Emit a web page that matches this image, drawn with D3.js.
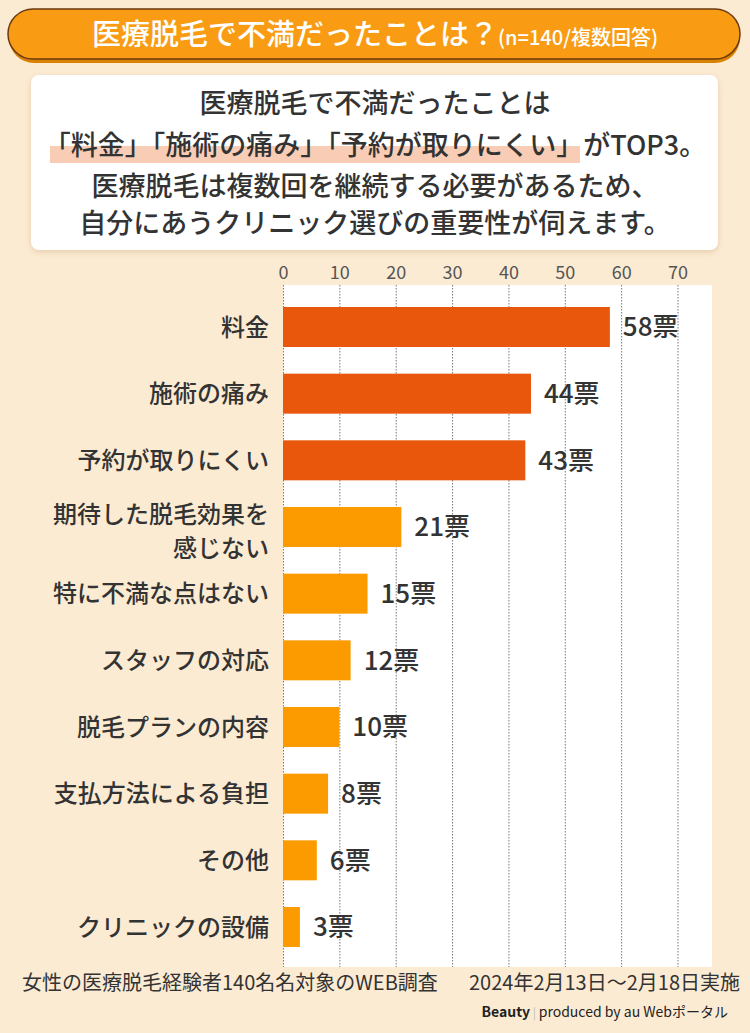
<!DOCTYPE html>
<html><head><meta charset="utf-8">
<script src="https://cdn.jsdelivr.net/npm/d3@7"></script>
<style>
html,body{margin:0;padding:0;background:#fcebd3;}
svg{display:block;font-family:"Noto Sans CJK JP","Noto Sans",sans-serif;}
</style></head>
<body>
<script>
const categories = ["料金","施術の痛み","予約が取りにくい","期待した脱毛効果を\n感じない","特に不満な点はない","スタッフの対応","脱毛プランの内容","支払方法による負担","その他","クリニックの設備"];
const votes = [58,44,43,21,15,12,10,8,6,3];
const topN = 3;
const tickValues = [0,10,20,30,40,50,60,70];
const unit = "票";
const titleMain = "医療脱毛で不満だったことは？";
const titleSub = "(n=140/複数回答)";
const summaryLines = ["医療脱毛で不満だったことは","「料金」「施術の痛み」「予約が取りにくい」がTOP3。","医療脱毛は複数回を継続する必要があるため、","自分にあうクリニック選びの重要性が伺えます。"];
const footLeft = "女性の医療脱毛経験者140名名対象のWEB調査";
const footRight = "2024年2月13日～2月18日実施";

const W = 750, H = 1033;
const svg = d3.select("body").append("svg").attr("width", W).attr("height", H);
svg.append("rect").attr("width", W).attr("height", H).attr("fill", "#fcebd3");

const defs = svg.append("defs");
const f = defs.append("filter").attr("id","sh").attr("x","-5%").attr("y","-10%").attr("width","110%").attr("height","130%");
f.append("feDropShadow").attr("dx",0).attr("dy",2).attr("stdDeviation",3).attr("flood-color","#c9a57a").attr("flood-opacity",0.45);

// Title pill
svg.append("rect").attr("x",9).attr("y",13).attr("width",731).attr("height",50).attr("rx",25).attr("fill","#d98200");
svg.append("rect").attr("x",8).attr("y",9).attr("width",732).attr("height",50).attr("rx",25)
  .attr("fill","#f99c14").attr("stroke","#6a3a12").attr("stroke-width",1.5);
const tt = svg.append("text").attr("x",375).attr("y",45).attr("text-anchor","middle").attr("fill","#fff").attr("font-weight",500);
tt.append("tspan").attr("font-size",29).text(titleMain);
tt.append("tspan").attr("font-size",20).text(titleSub);

// Summary box
svg.append("rect").attr("x",31).attr("y",75).attr("width",687).attr("height",175).attr("rx",8)
  .attr("fill","#fff").attr("filter","url(#sh)");
svg.append("rect").attr("x",50).attr("y",146).attr("width",530).attr("height",17).attr("fill","#f9cdb5");
const lineY = [113,155,196,233];
summaryLines.forEach((t,i)=>{
  svg.append("text").attr("x",375).attr("y",lineY[i]).attr("text-anchor","middle")
    .attr("font-size",27).attr("font-weight",500).attr("fill","#333").text(t);
});

// Chart
const x = d3.scaleLinear().domain([0,70]).range([283,677.5]);
const plotRight = 712, plotTop = 285, plotBottom = 967;
const y = d3.scaleBand().domain(categories).range([307,947]).paddingInner(0.4).paddingOuter(0.0);

svg.append("rect").attr("x",x(0)).attr("y",plotTop).attr("width",plotRight-x(0)).attr("height",plotBottom-plotTop).attr("fill","#fff");

const xAxis = svg.append("g").attr("transform",`translate(0,${plotTop})`)
  .call(d3.axisTop(x).tickValues(tickValues).tickSize(-(plotBottom-plotTop)).tickFormat(d3.format("d")));
xAxis.select(".domain").remove();
xAxis.selectAll(".tick line").attr("stroke","#777").attr("stroke-dasharray","1.5,1.5").attr("stroke-width",1);
xAxis.selectAll(".tick text").attr("font-size",18).attr("fill","#555").attr("font-family","'Noto Sans CJK JP',sans-serif").attr("y",-6).attr("dy",0);

const data = categories.map((c,i)=>({c, v:votes[i], i}));
svg.selectAll("rect.bar").data(data).join("rect").attr("class","bar")
  .attr("x",x(0)).attr("y",d=>y(d.c)).attr("width",d=>x(d.v)-x(0)).attr("height",y.bandwidth())
  .attr("fill",d=>d.i<topN?"#e8570b":"#fb9b00");

svg.selectAll("text.val").data(data).join("text").attr("class","val")
  .attr("x",d=>x(d.v)+13).attr("y",d=>y(d.c)+y.bandwidth()/2).attr("dy","0.36em")
  .attr("font-size",26).attr("font-weight",500).attr("fill","#333").text(d=>d.v+unit);

data.forEach(d=>{
  const lines = d.c.split("\n");
  const cy = y(d.c)+y.bandwidth()/2 + (lines.length>1?4:0);
  const t = svg.append("text").attr("text-anchor","end").attr("font-size",24).attr("font-weight",500).attr("fill","#333");
  lines.forEach((l,j)=>{
    t.append("tspan").attr("x",269).attr("y",cy+(j-(lines.length-1)/2)*34).attr("dy","0.36em").text(l);
  });
});

// Footer
svg.append("text").attr("x",22).attr("y",990).attr("font-size",20).attr("fill","#333").text(footLeft);
svg.append("text").attr("x",740).attr("y",990).attr("text-anchor","end").attr("font-size",20).attr("fill","#333").text(footRight);
const bt = svg.append("text").attr("x",728).attr("y",1017).attr("text-anchor","end").attr("font-size",14).attr("fill","#222");
bt.append("tspan").attr("font-weight",700).text("Beauty");
bt.append("tspan").attr("fill","#bbb").attr("font-size",12).text(" | ");
bt.append("tspan").text("produced by au Webポータル");
</script>
</body></html>
